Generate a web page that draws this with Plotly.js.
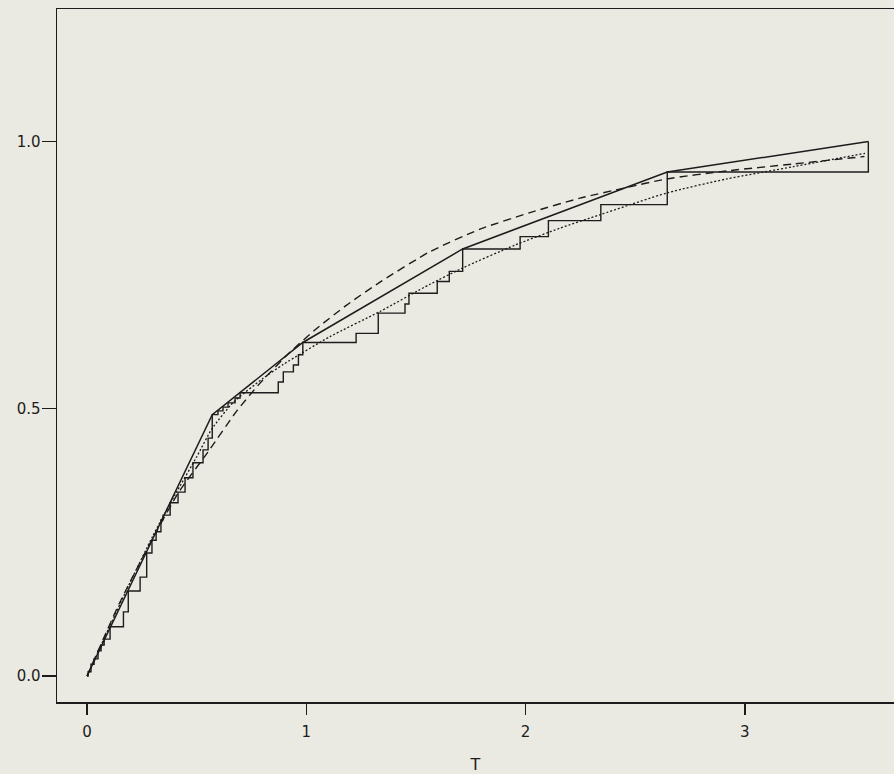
<!DOCTYPE html>
<html>
<head>
<meta charset="utf-8">
<script src="https://cdn.plot.ly/plotly-3.0.1.min.js"></script>
<style>html,body{margin:0;padding:0;background:#ebeae2;}#chart{width:894px;height:774px;}</style>
</head>
<body>
<div id="chart"></div>
<script>
// Least concave majorant (solid polyline)
var majT = [0, 0.296, 0.571, 0.984, 1.713, 2.646, 3.563];
var majV = [0, 0.254, 0.489, 0.624, 0.799, 0.943, 1.000];

// Step estimator (solid staircase)
var stepT = [0, 0.005, 0.018, 0.032, 0.050, 0.064, 0.078, 0.105, 0.166, 0.188, 0.242, 0.272, 0.296, 0.315, 0.337, 0.347, 0.379, 0.415, 0.447, 0.483, 0.529, 0.552, 0.571, 0.597, 0.620, 0.643, 0.675, 0.698, 0.872, 0.895, 0.941, 0.964, 0.984, 1.227, 1.328, 1.450, 1.468, 1.597, 1.652, 1.713, 1.975, 2.104, 2.343, 2.646, 3.563];
var stepV = [0, 0.008, 0.022, 0.032, 0.047, 0.058, 0.069, 0.092, 0.120, 0.159, 0.185, 0.230, 0.254, 0.270, 0.292, 0.301, 0.324, 0.344, 0.371, 0.399, 0.423, 0.445, 0.489, 0.496, 0.503, 0.511, 0.520, 0.530, 0.550, 0.569, 0.582, 0.601, 0.624, 0.641, 0.679, 0.696, 0.716, 0.738, 0.757, 0.799, 0.822, 0.852, 0.882, 0.943, 1.000];

// Dashed curve
var dashT = [0, 0.15, 0.30, 0.42, 0.553, 0.683, 0.789, 0.926, 1.047, 1.184, 1.336, 1.564, 1.792, 2.020, 2.248, 2.461, 2.643, 2.917, 3.221, 3.545];
var dashV = [0, 0.138, 0.258, 0.345, 0.420, 0.496, 0.548, 0.606, 0.650, 0.694, 0.737, 0.794, 0.836, 0.867, 0.894, 0.914, 0.930, 0.945, 0.958, 0.972];

// Dotted curve
var dotT = [0, 0.10, 0.20, 0.30, 0.40, 0.50, 0.569, 0.667, 0.80, 0.895, 1.108, 1.336, 1.564, 1.716, 1.95, 2.157, 2.339, 2.646, 2.917, 3.221, 3.548];
var dotV = [0, 0.090, 0.178, 0.262, 0.338, 0.410, 0.462, 0.512, 0.556, 0.583, 0.635, 0.682, 0.733, 0.764, 0.806, 0.838, 0.863, 0.904, 0.930, 0.953, 0.978];

var xTicks = [0, 1, 2, 3];
var xTickText = ['0', '1', '2', '3'];
var yTicks = [0, 0.5, 1.0];
var yTickText = ['0.0', '0.5', '1.0'];

var ink = '#1c1c1c';
var traces = [
  {x: stepT, y: stepV, mode: 'lines', line: {shape: 'hv', color: ink, width: 1.4}},
  {x: majT, y: majV, mode: 'lines', line: {color: ink, width: 1.5}},
  {x: dashT, y: dashV, mode: 'lines', line: {color: ink, width: 1.4, dash: '8px,5px', shape: 'spline', smoothing: 0.6}},
  {x: dotT, y: dotV, mode: 'lines', line: {color: ink, width: 1.3, dash: '2px,2px', shape: 'spline', smoothing: 0.6}}
];

var font = {family: 'DejaVu Sans, Liberation Sans, sans-serif', size: 15, color: ink};
var layout = {
  width: 894, height: 774,
  margin: {l: 57, r: 0, t: 9, b: 72},
  paper_bgcolor: '#ebeae2', plot_bgcolor: '#ebeae2',
  showlegend: false,
  xaxis: {
    range: [-0.137, 3.68], tickvals: xTicks, ticktext: xTickText,
    ticks: 'outside', ticklen: 11, tickwidth: 1.3, tickcolor: ink,
    ticklabelstandoff: 4,
    showline: true, linecolor: ink, linewidth: 1.5, mirror: true,
    showgrid: false, zeroline: false, tickfont: font,
    title: {text: 'T', font: {family: 'DejaVu Sans, sans-serif', size: 16, color: ink}, standoff: 26}
  },
  yaxis: {
    range: [-0.0487, 1.248], tickvals: yTicks, ticktext: yTickText,
    ticks: 'outside', ticklen: 14, tickwidth: 1.3, tickcolor: ink,
    ticklabelstandoff: -2,
    showline: true, linecolor: ink, linewidth: 1.5,
    showgrid: false, zeroline: false, tickfont: font
  }
};
Plotly.newPlot('chart', traces, layout, {displayModeBar: false, staticPlot: true});
</script>
</body>
</html>
